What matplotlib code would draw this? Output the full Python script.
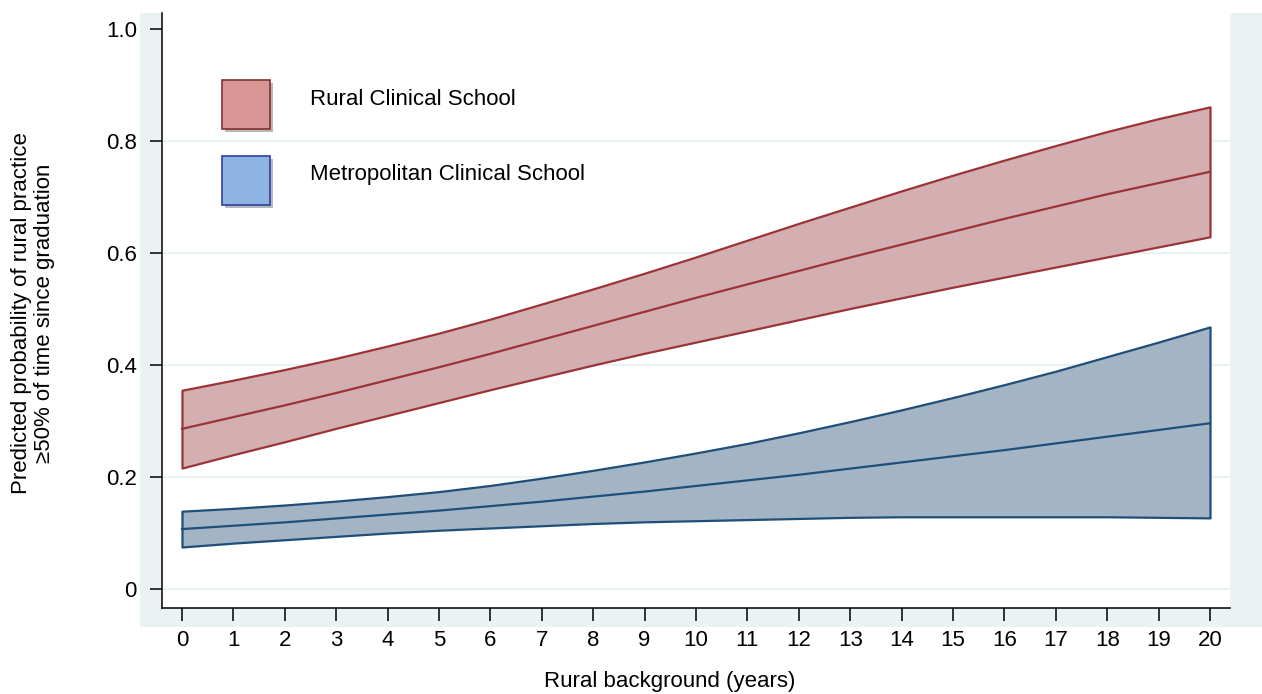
import matplotlib
matplotlib.use("Agg")
import matplotlib.pyplot as plt
import matplotlib.patheffects as pe
from matplotlib.patches import Rectangle
import numpy as np

plt.rcParams['font.family'] = ['Liberation Sans', 'DejaVu Sans']

# rural background in years
years = list(range(0, 21))

# Rural Clinical School: predicted probability with 95% CI
rural_mid = [0.286, 0.307, 0.328, 0.350, 0.373, 0.396, 0.420, 0.445, 0.470, 0.495, 0.520,
             0.544, 0.568, 0.592, 0.615, 0.638, 0.661, 0.683, 0.705, 0.725, 0.745]
rural_hi = [0.355, 0.373, 0.392, 0.412, 0.434, 0.457, 0.482, 0.509, 0.536, 0.564, 0.593,
            0.623, 0.653, 0.682, 0.711, 0.739, 0.766, 0.792, 0.817, 0.840, 0.861]
rural_lo = [0.216, 0.240, 0.263, 0.287, 0.310, 0.333, 0.356, 0.378, 0.400, 0.421, 0.441,
            0.461, 0.481, 0.501, 0.520, 0.539, 0.557, 0.575, 0.593, 0.611, 0.629]

# Metropolitan Clinical School
metro_mid = [0.107, 0.113, 0.119, 0.126, 0.133, 0.140, 0.148, 0.156, 0.165, 0.174, 0.184,
             0.194, 0.204, 0.215, 0.226, 0.237, 0.248, 0.260, 0.272, 0.284, 0.296]
metro_hi = [0.139, 0.144, 0.150, 0.157, 0.165, 0.174, 0.185, 0.198, 0.212, 0.227, 0.243,
            0.260, 0.279, 0.299, 0.320, 0.342, 0.365, 0.389, 0.415, 0.441, 0.468]
metro_lo = [0.075, 0.082, 0.088, 0.094, 0.100, 0.105, 0.109, 0.113, 0.117, 0.120, 0.122,
            0.124, 0.126, 0.128, 0.129, 0.129, 0.129, 0.129, 0.129, 0.128, 0.127]

y_ticks = [0, 0.2, 0.4, 0.6, 0.8, 1.0]
y_ticklabels = ['0', '0.2', '0.4', '0.6', '0.8', '1.0']
legend_labels = ['Rural Clinical School', 'Metropolitan Clinical School']

FS = 16
W, H = 1262, 694
fig = plt.figure(figsize=(W / 100, H / 100), dpi=100)

# light graph region behind the plot
fig.patches.append(Rectangle((140 / W, (H - 627) / H), (W - 140) / W, (627 - 13) / H,
                             transform=fig.transFigure, facecolor='#eaf2f3',
                             edgecolor='none', zorder=-5))

ax = fig.add_axes([162 / W, (H - 608) / H, (1230 - 162) / W, (608 - 13) / H])
ax.set_zorder(2)
ax.set_facecolor('white')
ax.set_xlim(-0.389, 20.389)
ax.set_ylim(-0.0339, 1.0286)

for v in y_ticks[:-1]:
    ax.axhline(v, color='#eaf2f3', lw=1.6, zorder=1)

ax.fill_between(years, rural_lo, rural_hi, facecolor='#d4afb1', edgecolor='#9b3438',
                lw=1.6, zorder=2)
ax.plot(years, rural_mid, color='#9b3438', lw=1.6, zorder=3)

ax.fill_between(years, metro_lo, metro_hi, facecolor='#a3b4c4', edgecolor='#1f4e79',
                lw=1.6, zorder=2)
ax.plot(years, metro_mid, color='#1f4e79', lw=1.6, zorder=3)

for s in ['top', 'right']:
    ax.spines[s].set_visible(False)
for s in ['left', 'bottom']:
    ax.spines[s].set_linewidth(1.1)

ax.set_xticks(years)
ax.set_yticks(y_ticks)
ax.set_yticklabels(y_ticklabels)
ax.tick_params(axis='both', direction='out', length=9, width=1.1, labelsize=FS)
ax.tick_params(axis='x', pad=7)
ax.tick_params(axis='y', pad=9)

ax.set_xlabel('Rural background (years)', fontsize=FS)
ax.xaxis.set_label_coords((670 - 162) / 1068, -(682 - 608) / 595)
ax.xaxis.label.set_va('center')
fig.text(33 / W, (H - 313) / H,
         'Predicted probability of rural practice\n\u226550% of time since graduation',
         rotation=90, ha='center', va='center', fontsize=FS, linespacing=1.15)

# legend drawn by hand
shadow = [pe.SimplePatchShadow(offset=(2, -2), alpha=0.35), pe.Normal()]
leg_fc = ['#d99694', '#8eb4e3']
leg_ec = ['#7f3030', '#2e3f9e']
leg_y = [0.805, 0.677]
text_y = [0.854, 0.729]
for i in range(2):
    r = Rectangle((0.0562, leg_y[i]), 0.0449, 0.0824, transform=ax.transAxes,
                  facecolor=leg_fc[i], edgecolor=leg_ec[i], lw=1.2, zorder=5)
    r.set_path_effects(shadow)
    ax.add_patch(r)
    ax.text(0.1386, text_y[i], legend_labels[i], transform=ax.transAxes,
            fontsize=FS, va='center', ha='left')

fig.savefig('out.png', dpi=100)
